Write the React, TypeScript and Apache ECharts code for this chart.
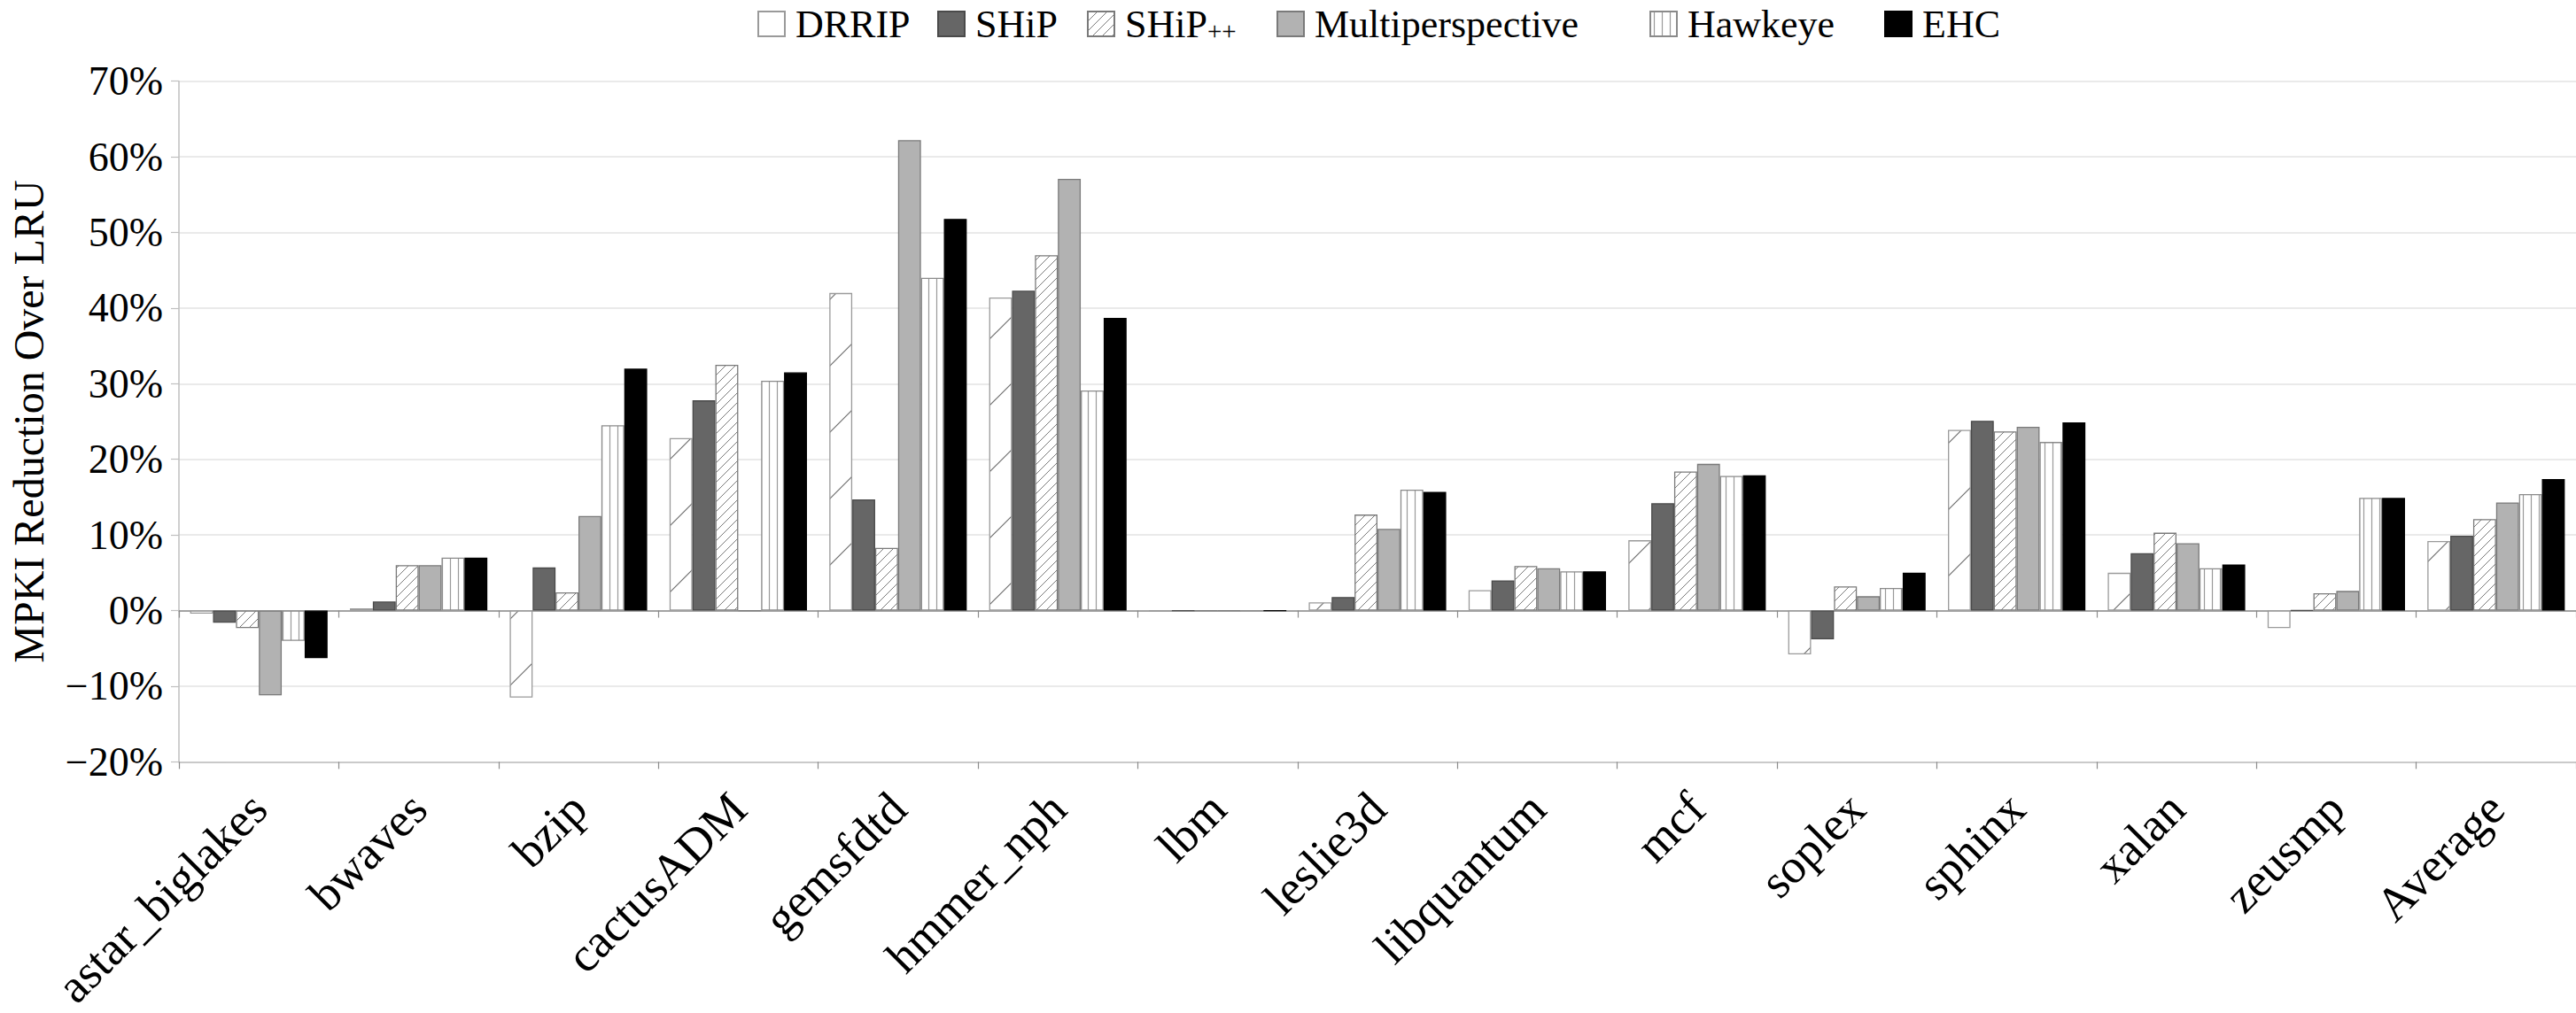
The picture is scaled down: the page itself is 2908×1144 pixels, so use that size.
import React, { useEffect, useRef } from 'react';
import * as echarts from 'echarts';

const categories = ['astar_biglakes', 'bwaves', 'bzip', 'cactusADM', 'gemsfdtd', 'hmmer_nph', 'lbm', 'leslie3d', 'libquantum', 'mcf', 'soplex', 'sphinx', 'xalan', 'zeusmp', 'Average'];
const seriesNames = ['DRRIP', 'SHiP', 'SHiP++', 'Multiperspective', 'Hawkeye', 'EHC'];
const drrip = [-0.4, 0.3, -11.5, 22.8, 42.0, 41.4, 0, 1.1, 2.7, 9.3, -5.8, 23.9, 5.0, -2.3, 9.2];
const ship = [-1.6, 1.2, 5.7, 27.8, 14.7, 42.3, 0, 1.8, 4.0, 14.2, -3.8, 25.1, 7.6, 0.05, 9.9];
const shipPP = [-2.3, 6.0, 2.4, 32.5, 8.3, 47.0, 0, 12.7, 5.9, 18.4, 3.2, 23.7, 10.3, 2.3, 12.1];
const multi = [-11.2, 6.0, 12.5, 0, 62.2, 57.1, 0, 10.8, 5.6, 19.4, 1.9, 24.3, 8.9, 2.6, 14.3];
const hawkeye = [-4.0, 7.0, 24.5, 30.4, 44.0, 29.1, 0, 16.0, 5.2, 17.8, 3.0, 22.3, 5.6, 14.9, 15.4];
const ehc = [-6.3, 7.0, 32.0, 31.5, 51.8, 38.7, 0, 15.7, 5.2, 17.9, 5.0, 24.9, 6.1, 14.9, 17.4];
const yMin = -20;
const yMax = 70;
const yStep = 10;

const FONT = "'Liberation Serif', 'Times New Roman', serif";
const legendLefts = [850, 1053, 1222, 1436, 1857, 2122];

function makeTile(w: number, h: number, draw: (ctx: CanvasRenderingContext2D) => void) {
  const c = document.createElement('canvas');
  c.width = w;
  c.height = h;
  const ctx = c.getContext('2d') as CanvasRenderingContext2D;
  ctx.fillStyle = '#ffffff';
  ctx.fillRect(0, 0, w, h);
  draw(ctx);
  return { image: c, repeat: 'repeat', imageWidth: w, imageHeight: h } as any;
}

function diag(S: number, color: string, lw: number) {
  return makeTile(S, S, (ctx) => {
    ctx.strokeStyle = color;
    ctx.lineWidth = lw;
    ctx.beginPath();
    ctx.moveTo(0, S);
    ctx.lineTo(S, 0);
    ctx.moveTo(-2, 2);
    ctx.lineTo(2, -2);
    ctx.moveTo(S - 2, S + 2);
    ctx.lineTo(S + 2, S - 2);
    ctx.stroke();
  });
}

function vlines(W: number, color: string, lw: number) {
  return makeTile(W, 4, (ctx) => {
    ctx.strokeStyle = color;
    ctx.lineWidth = lw;
    ctx.beginPath();
    ctx.moveTo(W / 2, 0);
    ctx.lineTo(W / 2, 4);
    ctx.stroke();
  });
}

export default function App() {
  const ref = useRef<HTMLDivElement>(null);
  useEffect(() => {
    if (!ref.current) return;
    const chart = echarts.init(ref.current, null, { renderer: 'svg' });
    const styles = [
      { color: diag(75, '#6e6e6e', 1.2), borderColor: '#9a9a9a' },
      { color: '#666666', borderColor: '#4a4a4a' },
      { color: diag(11, '#7a7a7a', 1.0), borderColor: '#7a7a7a' },
      { color: '#b2b2b2', borderColor: '#7a7a7a' },
      { color: vlines(9, '#9a9a9a', 1.2), borderColor: '#8a8a8a' },
      { color: '#000000', borderColor: '#000000' },
    ];
    const values = [drrip, ship, shipPP, multi, hawkeye, ehc];
    const legendText = {
      fontFamily: FONT,
      fontSize: 44,
      lineHeight: 44,
      color: '#000',
      padding: [0, 0, 0, 7],
      rich: {
        s: { fontFamily: FONT, fontSize: 29, lineHeight: 44, verticalAlign: 'bottom', padding: [11, 0, 0, 0], color: '#000' },
      },
    };
    const option: any = {
      animation: false,
      backgroundColor: '#ffffff',
      textStyle: { fontFamily: FONT },
      legend: seriesNames.map((name, i) => ({
        data: [name],
        left: legendLefts[i],
        top: 0,
        itemWidth: 30,
        itemHeight: 28,
        icon: 'rect',
        selectedMode: false,
        formatter: (n: string) => (n === 'SHiP++' ? 'SHiP{s|++}' : n),
        textStyle: legendText,
      })),
      grid: { left: 193, right: 0, top: 91.7, bottom: 252.5, containLabel: false },
      xAxis: [
        {
          type: 'category',
          data: categories,
          position: 'bottom',
          axisLine: { onZero: false, lineStyle: { color: '#bfbfbf', width: 1.5 } },
          axisTick: { show: true, interval: 0, length: 8, lineStyle: { color: '#8c8c8c', width: 1.2 } },
          axisLabel: { interval: 0, rotate: 45, margin: 44, fontSize: 54, fontFamily: FONT, color: '#000' },
          splitLine: { show: false },
        },
        {
          type: 'category',
          data: categories,
          position: 'top',
          axisLine: { onZero: true, onZeroAxisIndex: 0, lineStyle: { color: '#8c8c8c', width: 1.5 } },
          axisTick: { show: true, inside: true, interval: 0, length: 8, lineStyle: { color: '#8c8c8c', width: 1.2 } },
          axisLabel: { show: false },
          splitLine: { show: false },
        },
      ],
      yAxis: {
        type: 'value',
        min: yMin,
        max: yMax,
        interval: yStep,
        name: 'MPKI Reduction Over LRU',
        nameLocation: 'middle',
        nameGap: 146,
        nameTextStyle: { fontSize: 48, fontFamily: FONT, color: '#000' },
        axisLine: { show: true, lineStyle: { color: '#bfbfbf', width: 1.5 } },
        axisTick: { show: true, length: 9, lineStyle: { color: '#bfbfbf', width: 1.2 } },
        splitLine: { lineStyle: { color: '#e3e3e3', width: 1.5 } },
        axisLabel: {
          margin: 18,
          fontSize: 46,
          fontFamily: FONT,
          color: '#000',
          formatter: (v: number) => (v < 0 ? '\u2212' + Math.abs(v) : String(v)) + '%',
        },
      },
      series: seriesNames.map((name, i) => ({
        name,
        type: 'bar',
        xAxisIndex: 0,
        data: values[i],
        barGap: '0%',
        barCategoryGap: '14%',
        itemStyle: { ...styles[i], borderWidth: 1.3 },
        emphasis: { disabled: true },
      })),
    };
    chart.setOption(option);
    return () => chart.dispose();
  }, []);
  return <div ref={ref} style={{ position: 'absolute', left: 0, top: 0, width: 2908, height: 1144 }} />;
}
